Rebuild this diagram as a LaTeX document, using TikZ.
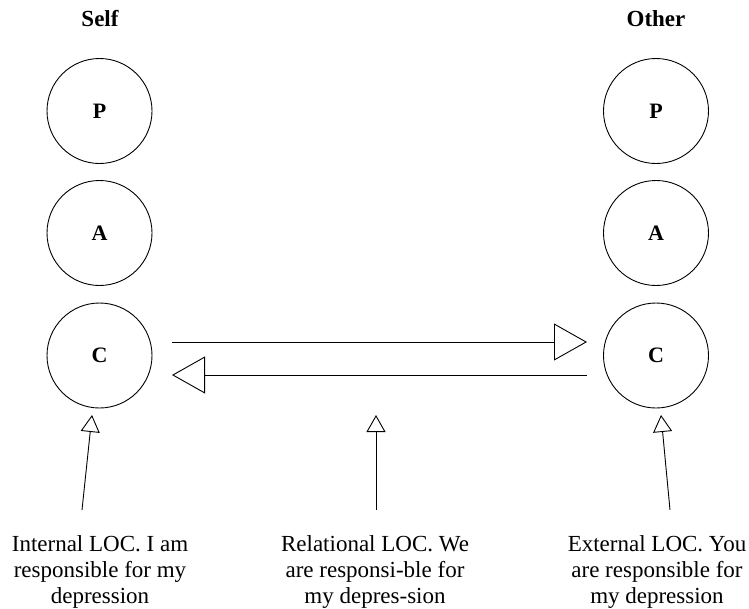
\documentclass[tikz,border=0pt]{standalone}
\usepackage{fontspec}
\setmainfont{Liberation Serif}
\usetikzlibrary{arrows.meta}
\begin{document}
\begin{tikzpicture}[x=1pt,y=-1pt,
  ego/.style={circle,draw,line width=0.9pt,minimum size=105pt,inner sep=0pt,font=\fontsize{22}{24}\selectfont\bfseries},
  head/.style={font=\fontsize{23}{24}\selectfont\bfseries,anchor=base},
  desc/.style={align=center,font=\fontsize{23}{25.7}\selectfont,anchor=base},
  bigarrow/.style={line width=0.9pt,-{Triangle[open,length=33pt,width=37pt]}},
  smallarrow/.style={line width=0.9pt,-{Triangle[open,length=17pt,width=19pt]}}]
\useasboundingbox (0,0) rectangle (749,608);
\node[head] (self) at (100,26) {Self};
\node[head] (other) at (656,26) {Other};
\node[ego] (Pl) at (99.5,111) {P};
\node[ego] (Al) at (99.5,233) {A};
\node[ego] (Cl) at (99.5,355.5) {C};
\node[ego] (Pr) at (656,111) {P};
\node[ego] (Ar) at (656,233) {A};
\node[ego] (Cr) at (656,355.5) {C};
\coordinate (t1) at (172,342);
\coordinate (t2) at (587,342);
\coordinate (b1) at (587,375);
\coordinate (b2) at (172,375);
\draw[bigarrow] (t1) -- (t2);
\draw[bigarrow] (b1) -- (b2);
\coordinate (lb) at (82,510);
\coordinate (lt) at (92,415);
\coordinate (mb) at (376,510);
\coordinate (mt) at (376,415);
\coordinate (rb) at (670,510);
\coordinate (rt) at (661,415);
\draw[smallarrow] (lb) -- (lt);
\draw[smallarrow] (mb) -- (mt);
\draw[smallarrow] (rb) -- (rt);
\node[desc] (ti) at (100,603) {Internal LOC. I am\\responsible for my\\depression};
\node[desc] (tm) at (375,603) {Relational LOC. We\\are responsi-ble for\\my depres-sion};
\node[desc] (te) at (657,603) {External LOC. You\\are responsible for\\my depression};
\end{tikzpicture}
\end{document}
